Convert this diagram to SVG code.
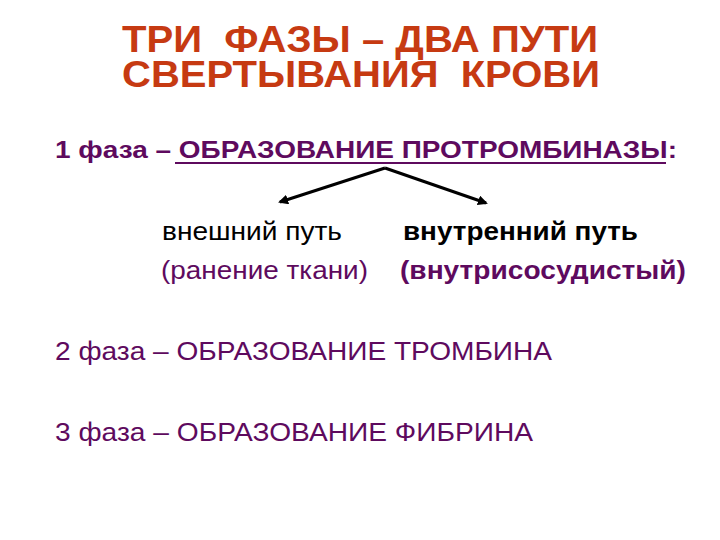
<svg xmlns="http://www.w3.org/2000/svg" width="720" height="540" viewBox="0 0 720 540">
<style>
.t{font-family:"Liberation Sans",Arial,sans-serif;font-weight:bold;fill:#C63A12;font-size:37px}
.p{font-family:"Liberation Sans",Arial,sans-serif;fill:#5E0A5E;font-size:25px}
.b{font-weight:bold}
.k{fill:#000}
.c{stroke:#000;stroke-width:3;fill:none;marker-end:url(#ah)}
</style>
<defs>
<marker id="ah" markerWidth="10" markerHeight="10" refX="8" refY="5" orient="auto" markerUnits="userSpaceOnUse">
<path d="M0,0 L10,5 L0,10 z" fill="#000"/>
</marker>
</defs>
<rect width="720" height="540" fill="#fff"/>
<g id="title">
<text class="t" x="122" y="52" textLength="476" lengthAdjust="spacingAndGlyphs" xml:space="preserve">ТРИ  ФАЗЫ – ДВА ПУТИ</text>
<text class="t" x="122" y="87" textLength="478" lengthAdjust="spacingAndGlyphs" xml:space="preserve">СВЕРТЫВАНИЯ  КРОВИ</text>
</g>
<g id="phase1">
<text class="p b" x="55" y="158" textLength="622" lengthAdjust="spacingAndGlyphs" style="font-size:24px">1 фаза – ОБРАЗОВАНИЕ ПРОТРОМБИНАЗЫ:</text>
<line x1="175" y1="163" x2="666" y2="163" stroke="#5E0A5E" stroke-width="2"/>
</g>
<g id="connectors">
<line class="c" x1="385" y1="168" x2="280" y2="202"/>
<line class="c" x1="385" y1="168" x2="486" y2="203"/>
</g>
<g id="extrinsic">
<text class="p k" x="162" y="240" textLength="180" lengthAdjust="spacingAndGlyphs">внешний путь</text>
<text class="p" x="161" y="279" textLength="207" lengthAdjust="spacingAndGlyphs">(ранение ткани)</text>
</g>
<g id="intrinsic">
<text class="p b k" x="403" y="240" textLength="235" lengthAdjust="spacingAndGlyphs">внутренний путь</text>
<text class="p b" x="400" y="279" textLength="286" lengthAdjust="spacingAndGlyphs">(внутрисосудистый)</text>
</g>
<g id="phase2">
<text class="p" x="55" y="360" textLength="497" lengthAdjust="spacingAndGlyphs" style="font-size:26px">2 фаза – ОБРАЗОВАНИЕ ТРОМБИНА</text>
</g>
<g id="phase3">
<text class="p" x="55" y="441" textLength="478" lengthAdjust="spacingAndGlyphs" style="font-size:26px">3 фаза – ОБРАЗОВАНИЕ ФИБРИНА</text>
</g>
</svg>
